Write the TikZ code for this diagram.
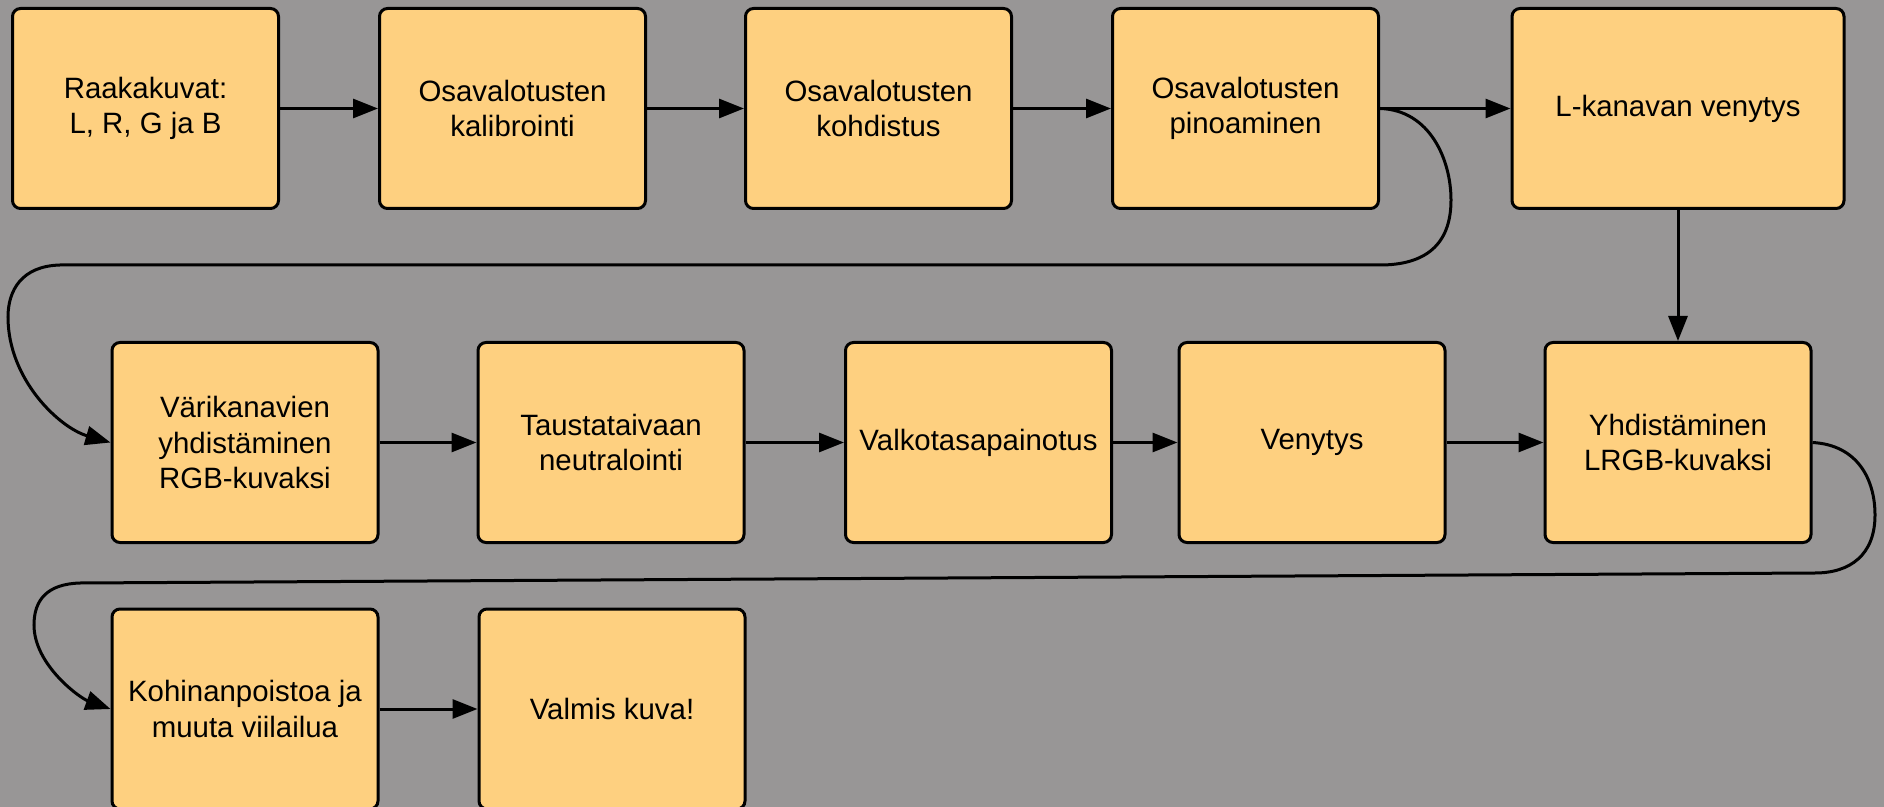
\documentclass[tikz,border=0pt]{standalone}
\usepackage{fontspec}
\setmainfont{Liberation Sans}
\usetikzlibrary{arrows.meta}
\definecolor{bg}{RGB}{152,150,150}
\definecolor{boxfill}{RGB}{254,208,128}
\tikzset{
  stepbox/.style={draw=black, fill=boxfill, line width=1.5pt, rounded corners=4pt,
    minimum width=133pt, minimum height=100pt, align=center, inner sep=2pt,
    font=\fontsize{14.7}{17.75}\selectfont},
  widebox/.style={stepbox, minimum width=166pt},
  conn/.style={line width=1.5pt, -{Triangle[length=12.5pt,width=9.5pt]}}
}
\begin{document}
\begin{tikzpicture}[x=0.5pt,y=-0.5pt]
\useasboundingbox (0,0) rectangle (1884,807);
\clip (0,0) rectangle (1884,807);
\fill[bg] (0,0) rectangle (1884,807);
% row 1
\node[stepbox] (b1) at (145.5,108.5) {Raakakuvat:\\L, R, G ja B};
\node[stepbox] (b2) at (512.5,108.5) {Osavalotusten\\kalibrointi};
\node[stepbox] (b3) at (878.5,108.5) {Osavalotusten\\kohdistus};
\node[stepbox] (b4) at (1245.5,108.5) {Osavalotusten\\pinoaminen};
\node[widebox] (b5) at (1678,108.5) {L-kanavan venytys};
% row 2
\node[stepbox] (b6) at (245,442.5) {Värikanavien\\yhdistäminen\\RGB-kuvaksi};
\node[stepbox] (b7) at (611,442.5) {Taustataivaan\\neutralointi};
\node[stepbox] (b8) at (978.5,442.5) {Valkotasapainotus};
\node[stepbox] (b9) at (1312,442.5) {Venytys};
\node[stepbox] (b10) at (1678,442.5) {Yhdistäminen\\LRGB-kuvaksi};
% row 3
\node[stepbox] (b11) at (245,709) {Kohinanpoistoa ja\\muuta viilailua};
\node[stepbox] (b12) at (612,709) {Valmis kuva!};
% connectors
\draw[conn] (b1) -- (b2);
\draw[conn] (b2) -- (b3);
\draw[conn] (b3) -- (b4);
\draw[conn] (b4) -- (b5);
\draw[conn] (b4.east) .. controls (1430,110) and (1451,160) .. (1451,200)
  .. controls (1451,245) and (1425,265) .. (1380,265) -- (60,265)
  .. controls (22,266) and (8,290) .. (8,317)
  .. controls (8,380) and (60,428) .. (b6.west);
\draw[conn] (b5) -- (b10);
\draw[conn] (b6) -- (b7);
\draw[conn] (b7) -- (b8);
\draw[conn] (b8) -- (b9);
\draw[conn] (b9) -- (b10);
\draw[conn] (b10.east) .. controls (1858,445) and (1875,480) .. (1875,515)
  .. controls (1875,555) and (1850,573) .. (1815,573) -- (80,583)
  .. controls (47,584) and (34,600) .. (34,625)
  .. controls (34,665) and (80,698) .. (b11.west);
\draw[conn] (b11) -- (b12);
\end{tikzpicture}
\end{document}
